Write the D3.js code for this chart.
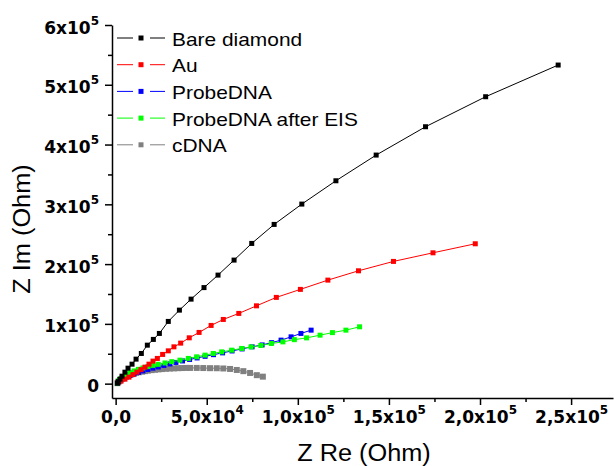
<!DOCTYPE html>
<html>
<head>
<meta charset="utf-8">
<script src="https://cdnjs.cloudflare.com/ajax/libs/d3/7.8.5/d3.min.js"></script>
<style>
body{margin:0;background:#fff;}
svg{display:block;}
</style>
</head>
<body>
<div id="root"></div>
<script>
// nyquist plot, Z Re vs Z Im

// [Z Re, Z Im] in Ohm
var bareDiamond=[[1000,800],[1500,3300],[2400,7500],[3500,12500],[5100,19200],[6800,25900],[9000,32600],[11200,41000],[14100,50500],[17400,64400],[20700,74000],[24000,84000],[28900,104100],[35000,123000],[41400,141400],[48500,160700],[56200,181600],[65000,206700],[74700,234600],[87000,266400],[102200,300400],[120900,339400],[143000,382400],[170100,429800],[203100,480000],[242900,533000]];
var au=[[1300,1700],[2900,4200],[5100,7500],[7300,10900],[9500,15100],[11700,19200],[13900,23400],[16100,27600],[18300,32600],[20500,37700],[22900,42200],[25800,48900],[28900,54900],[32000,61600],[35700,67800],[40400,76700],[45800,85700],[52400,97400],[59100,107400],[67600,117500],[77300,130200],[88200,144300],[101400,157700],[116500,173200],[133300,188800],[152500,204500],[174200,218900],[197400,234000]];
var probeDNA=[[1000,800],[1800,3300],[2900,5900],[4300,8400],[5900,11200],[7900,13700],[10100,16200],[12500,18700],[15000,21300],[17700,23800],[20500,25900],[23400,27900],[26500,30500],[29800,33000],[33100,35500],[36700,38000],[40600,40500],[44700,43000],[49100,45700],[53700,48500],[58700,51500],[63900,54700],[69400,58100],[74900,61600],[80400,64800],[85600,68600],[90800,72800],[96300,78300],[101700,84000],[107300,89500]];
var probeAfterEIS=[[1000,800],[1800,5000],[2900,8400],[4300,11700],[5900,15100],[7900,18400],[10100,21300],[12500,23900],[15000,26300],[17700,28500],[20500,30500],[23400,32300],[27100,34600],[30800,36800],[35300,39300],[39900,42200],[44500,44900],[49100,47700],[53600,50500],[58200,53200],[63700,56000],[69200,58900],[74300,61500],[79700,63800],[85500,67200],[91800,69900],[98100,73600],[104800,76600],[112200,81100],[119000,85400],[126400,89500],[133900,95100]];
var cDNA=[[1000,800],[1500,3300],[2400,5900],[3500,8400],[4600,10400],[5700,12200],[7000,13900],[8400,15400],[9800,16700],[11200,17900],[12800,19100],[14500,20100],[16100,20900],[17700,21800],[19700,22600],[21600,23300],[23500,23900],[25400,24400],[27600,24900],[29800,25300],[32000,25600],[34200,25900],[36400,26100],[38600,26300],[40800,26300],[44500,26300],[48100,26100],[51800,25900],[55500,25800],[59100,25400],[62800,24600],[66500,22900],[70100,20900],[73800,17900],[77500,14200],[80800,11700]];

var seriesNames=['Bare diamond','Au','ProbeDNA','ProbeDNA after EIS','cDNA'];
var seriesColors=['#000000','#ff0000','#0000ff','#00ff00','#808080'];

var xTicks=[0,50000,100000,150000,200000,250000];
var xTickLabels=[['0,0',''],['5,0x10','4'],['1,0x10','5'],['1,5x10','5'],['2,0x10','5'],['2,5x10','5']];
var xMinor=[25000,75000,125000,175000,225000];
var yTicks=[0,100000,200000,300000,400000,500000,600000];
var yTickLabels=[['0',''],['1x10','5'],['2x10','5'],['3x10','5'],['4x10','5'],['5x10','5'],['6x10','5']];
var yMinor=[50000,150000,250000,350000,450000,550000];

var W=614,H=466;
var svg=d3.select('#root').append('svg').attr('width',W).attr('height',H);

var x=d3.scaleLinear().domain([-2000,273000]).range([112,613]);
var y=d3.scaleLinear().domain([-24000,600000]).range([398,25]);

// stretch text a bit wider like the original
function stretch(sel,k){
	sel.each(function(){
		var len=this.getComputedTextLength();
		d3.select(this).attr('textLength',len*k).attr('lengthAdjust','spacingAndGlyphs');
	});
}

function label(t,parts){
	t.text(null);
	t.append('tspan').text(parts[0]);
	if(parts[1]){t.append('tspan').attr('font-size',12).attr('dy',-9).text(parts[1]);}
}

// minor ticks first
svg.append('g').attr('transform','translate(0,398)')
	.call(d3.axisBottom(x).tickValues(xMinor).tickSize(4).tickFormat('').tickSizeOuter(0))
	.call(function(g){g.select('.domain').remove();});
svg.append('g').attr('transform','translate(112,0)')
	.call(d3.axisLeft(y).tickValues(yMinor).tickSize(4).tickFormat('').tickSizeOuter(0))
	.call(function(g){g.select('.domain').remove();});

var xg=svg.append('g').attr('transform','translate(0,398)')
	.call(d3.axisBottom(x).tickValues(xTicks).tickSize(7).tickSizeOuter(0));
xg.selectAll('.tick text').each(function(d,i){
	var t=d3.select(this).attr('y',25).attr('dy',null);
	label(t,xTickLabels[i]);
});

var yg=svg.append('g').attr('transform','translate(112,0)')
	.call(d3.axisLeft(y).tickValues(yTicks).tickSize(7).tickSizeOuter(0));
yg.selectAll('.tick text').each(function(d,i){
	var t=d3.select(this).attr('x',-13).attr('y',8).attr('dy',null);
	label(t,yTickLabels[i]);
});

svg.selectAll('.tick text').attr('font-family','DejaVu Sans').attr('font-weight','bold').attr('font-size',17).attr('fill','#000');
svg.selectAll('.domain, .tick line').attr('stroke','#000').attr('stroke-width',1.5);

// axis titles
svg.append('text').attr('x',364).attr('y',461).attr('text-anchor','middle')
	.attr('font-family','Liberation Sans, Arial').attr('font-size',23).text('Z Re (Ohm)')
	.call(stretch,1.1);
svg.append('text').attr('transform','translate(30,229) rotate(-90)').attr('text-anchor','middle')
	.attr('font-family','Liberation Sans, Arial').attr('font-size',23).text('Z Im (Ohm)')
	.call(stretch,1.1);

var allSeries=[bareDiamond,au,probeDNA,probeAfterEIS,cDNA];

var line=d3.line()
	.x(function(d){return x(d[0])})
	.y(function(d){return y(d[1])});

// draw back to front so black ends up on top of the pile near the origin
var order=[4,2,3,1,0];
order.forEach(function(si){
	var data=allSeries[si];
	var col=seriesColors[si];
	var sz= si==4 ? 6 : 5;
	svg.append('path').datum(data).attr('d',line).attr('fill','none').attr('stroke',col).attr('stroke-width',1);
	svg.append('g').selectAll('rect').data(data).enter().append('rect')
		.attr('x',function(d){return x(d[0])-sz/2})
		.attr('y',function(d){return y(d[1])-sz/2})
		.attr('width',sz).attr('height',sz)
		.attr('fill',col);
});

// legend
var legendG=svg.append('g').selectAll('g').data(seriesNames).enter().append('g')
	.attr('transform',function(d,i){return 'translate(0,'+(38+i*26.7)+')'});
legendG.append('line').attr('x1',117).attr('x2',133).attr('y1',0).attr('y2',0)
	.attr('stroke',function(d,i){return seriesColors[i]}).attr('stroke-width',1);
legendG.append('line').attr('x1',150).attr('x2',165).attr('y1',0).attr('y2',0)
	.attr('stroke',function(d,i){return seriesColors[i]}).attr('stroke-width',1);
legendG.append('rect').attr('x',138.5).attr('y',-2.5).attr('width',5).attr('height',5)
	.attr('fill',function(d,i){return seriesColors[i]});
legendG.append('text').attr('x',172).attr('y',7.5)
	.attr('font-family','Liberation Sans, Arial').attr('font-size',19).text(function(d){return d})
	.call(stretch,1.1);
</script>
</body>
</html>
